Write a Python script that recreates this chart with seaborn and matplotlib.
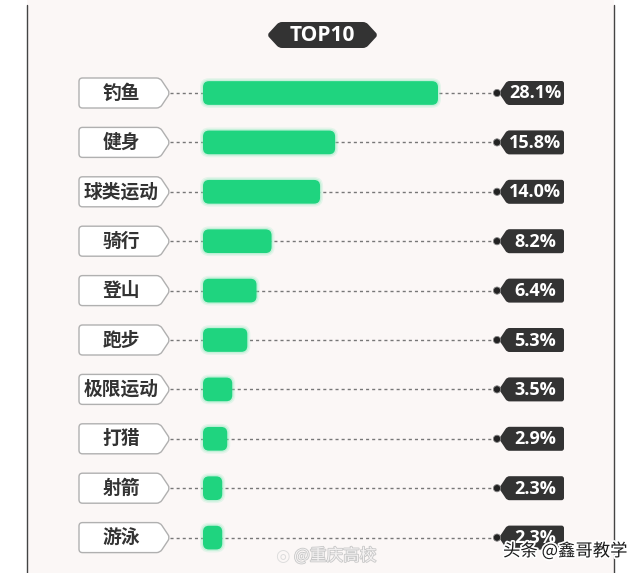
import matplotlib
matplotlib.use("Agg")
import matplotlib.pyplot as plt
import seaborn as sns
import pandas as pd
from matplotlib.patches import FancyBboxPatch, Polygon, Circle, Rectangle, PathPatch
from matplotlib.path import Path
from matplotlib.transforms import IdentityTransform
import matplotlib.patheffects as pe

sns.set_theme(style="white")
plt.rcParams['font.family'] = ['Noto Sans CJK SC', 'DejaVu Sans']

# ---- data ----
categories = ["钓鱼", "健身", "球类运动", "骑行", "登山", "跑步", "极限运动", "打猎", "射箭", "游泳"]
shares = [28.1, 15.8, 14.0, 8.2, 6.4, 5.3, 3.5, 2.9, 2.3, 2.3]
value_labels = ["28.1%", "15.8%", "14.0%", "8.2%", "6.4%", "5.3%", "3.5%", "2.9%", "2.3%", "2.3%"]
title = "TOP10"

df = pd.DataFrame({"cat": categories, "share": shares})

W, H = 640, 573
fig = plt.figure(figsize=(W / 100, H / 100), dpi=100)
fig.patch.set_facecolor("white")

bg = fig.add_axes([0, 0, 1, 1], zorder=0)
bg.set_xlim(0, W)
bg.set_ylim(H, 0)
bg.axis("off")


def rounded_poly(pts, r):
    """Closed polygon path with rounded corners (quadratic curves)."""
    import numpy as np
    pts = [np.array(p, float) for p in pts]
    n = len(pts)
    verts, codes = [], []
    for k in range(n):
        p_prev, p, p_next = pts[k - 1], pts[k], pts[(k + 1) % n]
        a = p + (p_prev - p) / np.linalg.norm(p_prev - p) * min(r, np.linalg.norm(p_prev - p) / 2)
        b = p + (p_next - p) / np.linalg.norm(p_next - p) * min(r, np.linalg.norm(p_next - p) / 2)
        if k == 0:
            verts.append(a); codes.append(Path.MOVETO)
        else:
            verts.append(a); codes.append(Path.LINETO)
        verts += [p, b]; codes += [Path.CURVE3, Path.CURVE3]
    verts.append(verts[0]); codes.append(Path.CLOSEPOLY)
    return Path(verts, codes)


# framed card
bg.add_patch(Rectangle((27, 0), 587, H, facecolor="#fbf7f6", edgecolor="none", zorder=0))
bg.plot([27, 27], [5, H], color="#444444", lw=1.0, zorder=1)
bg.plot([614, 614], [5, H], color="#444444", lw=1.0, zorder=1)

# TOP10 badge
cx, cy = 322, 35
badge = [(267, cy), (279, cy - 13), (366, cy - 13), (378, cy), (366, cy + 13), (279, cy + 13)]
bg.add_patch(PathPatch(rounded_poly(badge, 3), facecolor="#333333", edgecolor="none", zorder=2))
bg.text(cx, cy + 0.5, title, color="white", fontsize=15, fontweight="bold",
        ha="center", va="center", family=["Open Sans", "DejaVu Sans"], zorder=3)

# bar axes: x in %, y categories
top_px, row_h = 68.3, 49.4
x0_px, x1_px = 203, 438
ax = fig.add_axes([x0_px / W, (H - top_px - 10 * row_h) / H, (x1_px - x0_px) / W, 10 * row_h / H], zorder=1)
ax.patch.set_alpha(0)
green = "#1fd47f"
sns.barplot(data=df, x="share", y="cat", orient="h", color=green, width=0.48, ax=ax)
ax.set_xlim(0, 28.1)
ax.set_ylim(9.5, -0.5)
ax.axis("off")

for p in list(ax.patches):
    x, y, w, h = p.get_x(), p.get_y(), p.get_width(), p.get_height()
    (dx0, dy0) = ax.transData.transform((x, y + h))
    (dx1, dy1) = ax.transData.transform((x + w, y))
    pw, ph = dx1 - dx0, dy1 - dy0
    for g, a in ((3, 0.18), (1.5, 0.3)):
        fig.add_artist(FancyBboxPatch((dx0 - g, dy0 - g), pw + 2 * g, ph + 2 * g,
                                      boxstyle=f"round,pad=0,rounding_size={6 + g}",
                                      transform=IdentityTransform(), facecolor="#7eeab5",
                                      edgecolor="none", alpha=a, zorder=2))
    fig.add_artist(FancyBboxPatch((dx0, dy0), pw, ph,
                                  boxstyle="round,pad=0,rounding_size=6",
                                  transform=IdentityTransform(), facecolor=green,
                                  edgecolor="none", zorder=3))
    p.set_visible(False)

for i, (cat, lab) in enumerate(zip(categories, value_labels)):
    yc = H - ax.transData.transform((0, i))[1]
    bg.plot([170, 496], [yc, yc], color="#777777", lw=1.0,
            linestyle=(0, (2.2, 2.2)), zorder=1)
    pts = [(79, yc - 15), (160, yc - 15), (170, yc), (160, yc + 15), (79, yc + 15)]
    bg.add_patch(PathPatch(rounded_poly(pts, 3.5), facecolor="white", edgecolor="#b0b0b0",
                           lw=1.0, zorder=2))
    bg.text(121, yc, cat, fontsize=13.5, fontweight="bold", color="#333333",
            ha="center", va="center", zorder=3)
    tag = [(499, yc), (507, yc - 12), (564, yc - 12), (564, yc + 12), (507, yc + 12)]
    bg.add_patch(PathPatch(rounded_poly(tag, 2.5), facecolor="#333333", edgecolor="none", zorder=2))
    bg.add_patch(Circle((497, yc), 3.6, facecolor="#222222", edgecolor="#888888", lw=0.6, zorder=3))
    bg.text(535, yc + 0.5, lab, fontsize=13, fontweight="bold", color="white",
            ha="center", va="center", family=["Open Sans", "DejaVu Sans"], zorder=3)

# watermarks
bg.text(282, 556, "◎", fontsize=12, color="#dddddd", ha="center", va="center", zorder=4,
        family=["DejaVu Sans"])
bg.text(294, 556, "@重庆高校", fontsize=12, color="#f4f2f2", ha="left", va="center", zorder=4,
        path_effects=[pe.withStroke(linewidth=1.2, foreground="#c8c8c8")])
bg.text(503, 551, "头条 @鑫哥教学", fontsize=12.5, color="#1a1a1a", ha="left", va="center", zorder=4,
        path_effects=[pe.withStroke(linewidth=2.5, foreground="white")])

fig.savefig("out.png", dpi=100, facecolor=fig.get_facecolor())
